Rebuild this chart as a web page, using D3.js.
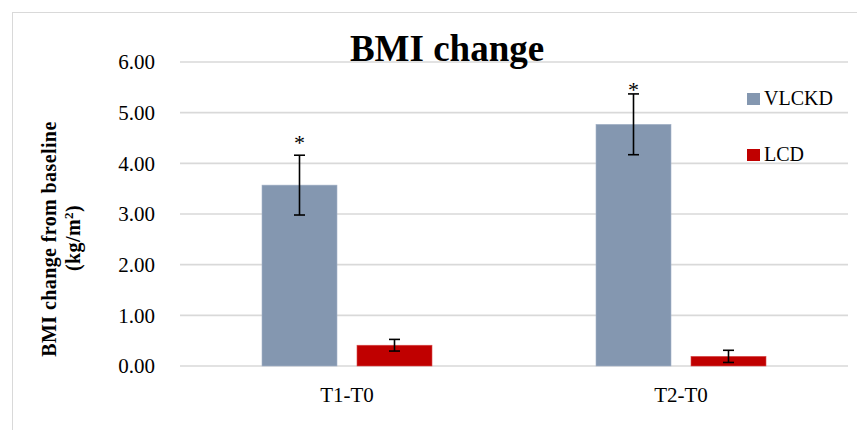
<!DOCTYPE html>
<html>
<head>
<meta charset="utf-8">
<script src="https://cdn.jsdelivr.net/npm/d3@7"></script>
<style>
  html, body { margin: 0; padding: 0; background: #fff; }
  svg { display: block; }
</style>
</head>
<body>
<svg id="chart" width="857" height="430"></svg>
<script>
// ---- data ----
const categories = ["T1-T0", "T2-T0"];
const seriesNames = ["VLCKD", "LCD"];
const vlckdValues = [3.57, 4.77];
const lcdValues = [0.41, 0.19];
const vlckdErrors = [0.59, 0.60];
const lcdErrors = [0.115, 0.12];
const vlckdStarAt = [4.54, 5.58];   // asterisk heights (data units)
const yTicks = [0, 1, 2, 3, 4, 5, 6];
const seriesColors = ["#8497b0", "#c00000"];

const titleText = "BMI change";
const yLabelLine1 = "BMI change from baseline";

// ---- layout ----
const SERIF = '"Liberation Serif"';
const svg = d3.select("#chart");
const W = 857, H = 430;
const margin = { left: 180, right: 9, top: 62, bottom: 64 };
const plotW = W - margin.left - margin.right;
const plotH = H - margin.top - margin.bottom;

// outer border
svg.append("rect")
  .attr("x", 12.5).attr("y", 12.5)
  .attr("width", W).attr("height", H)
  .attr("fill", "none").attr("stroke", "#d9d9d9").attr("stroke-width", 1);

const g = svg.append("g").attr("transform", `translate(${margin.left},${margin.top})`);

const y = d3.scaleLinear().domain([0, 6]).range([plotH, 0]);
const x0 = d3.scaleBand().domain(categories).range([0, plotW]).paddingInner(0).paddingOuter(0);
const groupW = 170;
const x1 = d3.scaleBand().domain(seriesNames).range([0, groupW]).paddingInner(20 / 95).paddingOuter(0);

// gridlines
g.append("g").selectAll("line").data(yTicks).join("line")
  .attr("x1", 0).attr("x2", plotW)
  .attr("y1", d => y(d)).attr("y2", d => y(d))
  .attr("stroke", "#d9d9d9").attr("stroke-width", 1.6);

// y axis labels
const yAxis = d3.axisLeft(y).tickValues(yTicks).tickFormat(d3.format(".2f")).tickSize(0).tickPadding(25);
const ya = g.append("g").call(yAxis);
ya.select(".domain").remove();
ya.selectAll("text").attr("fill", "#000").attr("dy", "0.32em")
  .style("font-family", SERIF).style("font-size", "21px");

// x axis labels
const xAxis = d3.axisBottom(x0).tickSize(0).tickPadding(21);
const xa = g.append("g").attr("transform", `translate(0,${plotH})`).call(xAxis);
xa.select(".domain").remove();
xa.selectAll("text").attr("fill", "#000")
  .style("font-family", SERIF).style("font-size", "21px");

// bars
const values = [vlckdValues, lcdValues];
const errors = [vlckdErrors, lcdErrors];
const rows = [];
categories.forEach((c, i) => {
  seriesNames.forEach((s, j) => {
    rows.push({ cat: c, ser: s, v: values[j][i], e: errors[j][i], color: seriesColors[j], i, j });
  });
});

const groupOffset = (x0.bandwidth() - groupW) / 2;
const bx = d => x0(d.cat) + groupOffset + x1(d.ser);

g.append("g").selectAll("rect").data(rows).join("rect")
  .attr("x", d => bx(d))
  .attr("y", d => y(d.v))
  .attr("width", x1.bandwidth())
  .attr("height", d => y(0) - y(d.v))
  .attr("fill", d => d.color)
  .attr("stroke", d => d.j === 0 ? "#a5b3c8" : "#d84a4a")
  .attr("stroke-width", 0.6);

// error bars
const eg = g.append("g").attr("stroke", "#000").attr("stroke-width", 1.6);
rows.forEach(d => {
  const cx = bx(d) + x1.bandwidth() / 2;
  eg.append("line").attr("x1", cx).attr("x2", cx).attr("y1", y(d.v + d.e)).attr("y2", y(d.v - d.e));
  eg.append("line").attr("x1", cx - 5.5).attr("x2", cx + 5.5).attr("y1", y(d.v + d.e)).attr("y2", y(d.v + d.e));
  eg.append("line").attr("x1", cx - 5.5).attr("x2", cx + 5.5).attr("y1", y(d.v - d.e)).attr("y2", y(d.v - d.e));
});

// significance asterisks
g.append("g").selectAll("text").data(categories).join("text")
  .attr("x", (c) => x0(c) + groupOffset + x1("VLCKD") + x1.bandwidth() / 2)
  .attr("y", (c, i) => y(vlckdStarAt[i]))
  .attr("dy", "0.62em")
  .attr("text-anchor", "middle")
  .style("font-family", SERIF).style("font-size", "22px")
  .text("*");

// title
svg.append("text")
  .attr("x", 447).attr("y", 61)
  .attr("text-anchor", "middle")
  .style("font-family", SERIF).style("font-size", "37px").style("font-weight", "bold")
  .text(titleText);

// y axis title (two lines)
const yt = svg.append("text")
  .attr("transform", "rotate(-90)")
  .attr("text-anchor", "middle")
  .style("font-family", SERIF).style("font-size", "20px").style("font-weight", "bold")
  .attr("letter-spacing", 0.4);
yt.append("tspan").attr("x", -239).attr("y", 56).text(yLabelLine1);
const t2 = yt.append("tspan").attr("x", -238).attr("y", 80);
t2.append("tspan").text("(kg/m");
t2.append("tspan").style("font-size", "13px").attr("dy", -7).text("2");
t2.append("tspan").attr("dy", 7).text(")");

// legend
const lg = svg.append("g");
seriesNames.forEach((s, i) => {
  const ly = 93 + i * 56;
  lg.append("rect").attr("x", 747).attr("y", ly).attr("width", 13).attr("height", 12).attr("fill", seriesColors[i]);
  lg.append("text").attr("x", 764).attr("y", ly + 12)
    .style("font-family", SERIF).style("font-size", "20px").text(s);
});
</script>
</body>
</html>
